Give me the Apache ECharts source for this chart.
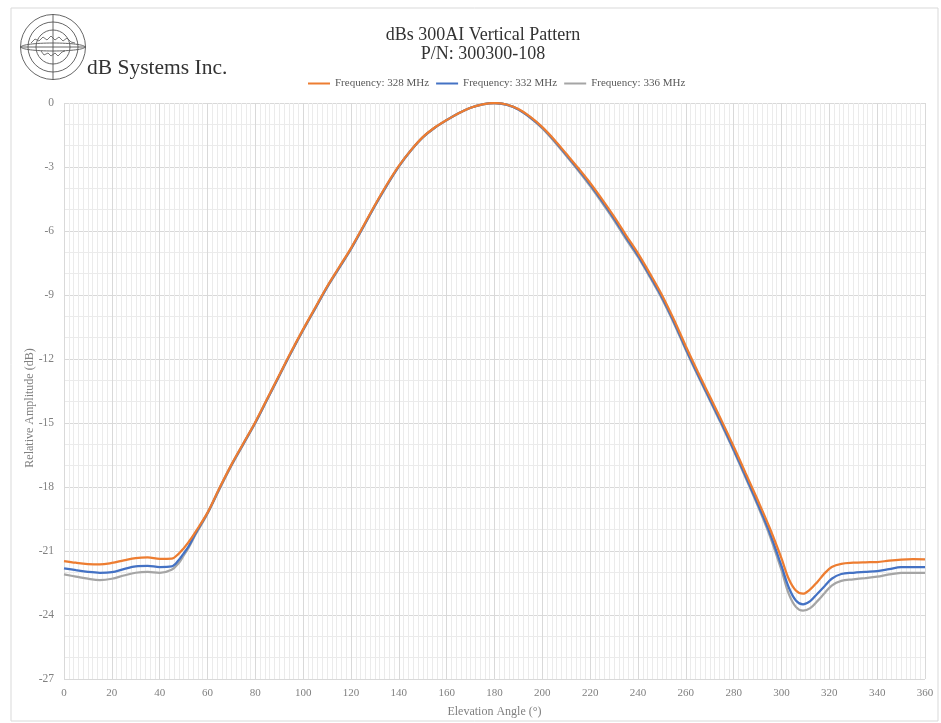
<!DOCTYPE html>
<html>
	<head>
		<title>dBs 300AI Vertical Pattern</title>
		<meta charset="utf-8"/>
		<style type="text/css">
			*{margin: 0;padding: 0;}
			html,body{
				width: 100%;
				height: 100%;
				background-color: #fff;
			}
			.charts{
				width: 941px;
				height: 723px;
			}
		</style>
		<script type="text/javascript" src="https://cdn.jsdelivr.net/npm/echarts@6/dist/echarts.min.js"></script>
	</head>
	<body>
		<div class="charts js-chart"></div>
		<script type="text/javascript">
			// 角度 (°)
			var angles=[0,5,10,15,20,25,30,35,40,45,48,50,52,55,60,65,70,75,80,85,90,95,100,105,110,115,120,125,130,135,140,145,150,155,160,165,170,175,180,185,190,195,200,205,210,215,220,225,230,235,240,245,250,255,260,265,270,275,280,285,290,295,300,303,306,309,312,315,318,321,325,330,335,340,345,350,355,360];
			// 328 MHz
			var freq328=[-21.47,-21.55,-21.61,-21.63,-21.56,-21.44,-21.33,-21.30,-21.37,-21.36,-21.12,-20.88,-20.6,-20.1,-19.2,-18.05,-16.95,-15.95,-14.95,-13.85,-12.75,-11.65,-10.6,-9.6,-8.6,-7.7,-6.8,-5.8,-4.78,-3.82,-2.95,-2.22,-1.6,-1.15,-0.8,-0.48,-0.22,-0.06,0,-0.07,-0.28,-0.65,-1.13,-1.72,-2.38,-3.05,-3.75,-4.52,-5.33,-6.2,-7.05,-8.0,-9.0,-10.15,-11.4,-12.6,-13.75,-14.9,-16.1,-17.35,-18.6,-19.9,-21.35,-22.3,-22.85,-23.0,-22.8,-22.45,-22.05,-21.75,-21.6,-21.55,-21.53,-21.52,-21.45,-21.4,-21.38,-21.39];
			// 332 MHz
			var freq332=[-21.81,-21.9,-21.98,-22.02,-21.99,-21.85,-21.72,-21.7,-21.75,-21.72,-21.42,-21.12,-20.8,-20.18,-19.22,-18.07,-16.97,-15.97,-14.98,-13.88,-12.78,-11.68,-10.63,-9.63,-8.63,-7.73,-6.83,-5.83,-4.81,-3.85,-2.97,-2.23,-1.61,-1.16,-0.8,-0.48,-0.22,-0.06,0,-0.08,-0.3,-0.68,-1.16,-1.76,-2.43,-3.11,-3.82,-4.6,-5.42,-6.3,-7.15,-8.1,-9.1,-10.25,-11.52,-12.72,-13.87,-15.03,-16.24,-17.5,-18.78,-20.12,-21.7,-22.7,-23.32,-23.5,-23.35,-23.0,-22.65,-22.3,-22.08,-22.02,-21.98,-21.94,-21.85,-21.76,-21.75,-21.75];
			// 336 MHz
			var freq336=[-22.1,-22.2,-22.3,-22.36,-22.3,-22.15,-22.02,-21.98,-22.02,-21.88,-21.56,-21.22,-20.87,-20.23,-19.25,-18.1,-17.0,-16.0,-15.0,-13.9,-12.8,-11.7,-10.65,-9.65,-8.65,-7.75,-6.85,-5.85,-4.83,-3.87,-2.98,-2.24,-1.62,-1.16,-0.81,-0.48,-0.22,-0.06,0,-0.08,-0.31,-0.7,-1.19,-1.8,-2.48,-3.17,-3.9,-4.68,-5.5,-6.38,-7.22,-8.17,-9.17,-10.32,-11.58,-12.78,-13.93,-15.1,-16.3,-17.57,-18.86,-20.25,-21.9,-23.0,-23.62,-23.8,-23.68,-23.35,-22.98,-22.62,-22.4,-22.33,-22.27,-22.2,-22.1,-22.03,-22.02,-22.02];
			var seriesNames=["Frequency: 328 MHz","Frequency: 332 MHz","Frequency: 336 MHz"];
			var seriesColors=["#ED7D31","#4472C4","#A5A5A5"];
			var serif="'Liberation Serif','DejaVu Serif',serif";

			function pairs(vals){
				var out=[];
				for(var i=0;i<angles.length;i++){
					out.push([angles[i],vals[i]]);
				}
				return out;
			}

			var chart=echarts.init(document.querySelector('.js-chart'));
			var sArr=[],allVals=[freq328,freq332,freq336];
			for(var j=0;j<allVals.length;j++){
				sArr.push({
					name:seriesNames[j],
					type:"line",
					smooth:0.35,
					showSymbol:false,
					symbol:"none",
					z:10-j,
					lineStyle:{color:seriesColors[j],width:2.25},
					itemStyle:{color:seriesColors[j]},
					data:pairs(allVals[j])
				});
			}

			var option={
				animation:false,
				backgroundColor:"#fff",
				textStyle:{fontFamily:serif},
				legend:{
					data:seriesNames,
					left:303,
					top:73,
					itemWidth:22,
					itemHeight:2,
					itemGap:7,
					icon:"rect",
					textStyle:{fontFamily:serif,fontSize:11,color:"#595959"}
				},
				grid:{left:64,right:16,top:103,bottom:43,containLabel:false},
				xAxis:{
					type:"value",
					min:0,
					max:360,
					interval:20,
					name:"Elevation Angle (°)",
					nameLocation:"middle",
					nameGap:27,
					nameTextStyle:{fontFamily:serif,fontSize:12,color:"#808080"},
					axisLine:{show:false},
					axisTick:{show:false},
					axisLabel:{fontFamily:serif,fontSize:11,color:"#808080",margin:9},
					splitLine:{show:true,lineStyle:{color:"#d9d9d9",width:1}},
					minorTick:{show:false,splitNumber:10},
					minorSplitLine:{show:true,lineStyle:{color:"#ebebeb",width:1}}
				},
				yAxis:{
					type:"value",
					min:-27,
					max:0,
					interval:3,
					axisLine:{show:false},
					axisTick:{show:false},
					axisLabel:{fontFamily:serif,fontSize:11.5,color:"#808080",margin:10},
					splitLine:{show:true,lineStyle:{color:"#d9d9d9",width:1}},
					minorTick:{show:false,splitNumber:3},
					minorSplitLine:{show:true,lineStyle:{color:"#ebebeb",width:1}}
				},
				graphic:[
					// 外框
					{type:"rect",shape:{x:11,y:8,width:927,height:713},style:{fill:null,stroke:"#d9d9d9",lineWidth:1},silent:true,z:-1},
					// 标题
					{type:"text",x:483,y:35,style:{text:"dBs 300AI Vertical Pattern",fill:"#333",font:"18px "+serif,textAlign:"center",textVerticalAlign:"middle"}},
					{type:"text",x:483,y:54,style:{text:"P/N: 300300-108",fill:"#333",font:"18px "+serif,textAlign:"center",textVerticalAlign:"middle"}},
					// 纵轴名称
					{type:"text",x:30,y:408,rotation:Math.PI/2,style:{text:"Relative Amplitude (dB)",fill:"#808080",font:"12px "+serif,textAlign:"center",textVerticalAlign:"middle"}},
					// 公司名
					{type:"text",x:87,y:68,style:{text:"dB Systems Inc.",fill:"#333",font:"21.5px "+serif,textAlign:"left",textVerticalAlign:"middle"}},
					// logo
					{type:"group",x:53,y:47,children:[
						{type:"circle",shape:{cx:0,cy:0,r:32.5},style:{fill:null,stroke:"#555",lineWidth:0.9}},
						{type:"circle",shape:{cx:0,cy:0,r:25},style:{fill:null,stroke:"#555",lineWidth:0.9}},
						{type:"circle",shape:{cx:0,cy:0,r:17},style:{fill:null,stroke:"#555",lineWidth:0.9}},
						{type:"line",shape:{x1:0,y1:-33,x2:0,y2:33},style:{stroke:"#555",lineWidth:0.9}},
						{type:"line",shape:{x1:-33,y1:0,x2:33,y2:0},style:{stroke:"#555",lineWidth:0.9}},
						{type:"ellipse",shape:{cx:0,cy:0,rx:32,ry:4},style:{fill:null,stroke:"#555",lineWidth:0.9}},
						{type:"polyline",shape:{points:[[-22,-4],[-18,-8],[-14,-6],[-10,-10],[-6,-7],[-2,-11],[2,-7],[6,-10],[10,-6],[14,-9],[18,-5],[22,-4]]},style:{fill:null,stroke:"#555",lineWidth:0.8}},
						{type:"polyline",shape:{points:[[-12,4],[-9,8],[-5,6],[-2,9],[2,6],[5,9],[9,5],[12,4]]},style:{fill:null,stroke:"#555",lineWidth:0.8}}
					]}
				],
				series:sArr
			};
			chart.setOption(option);
		</script>
	</body>
</html>
